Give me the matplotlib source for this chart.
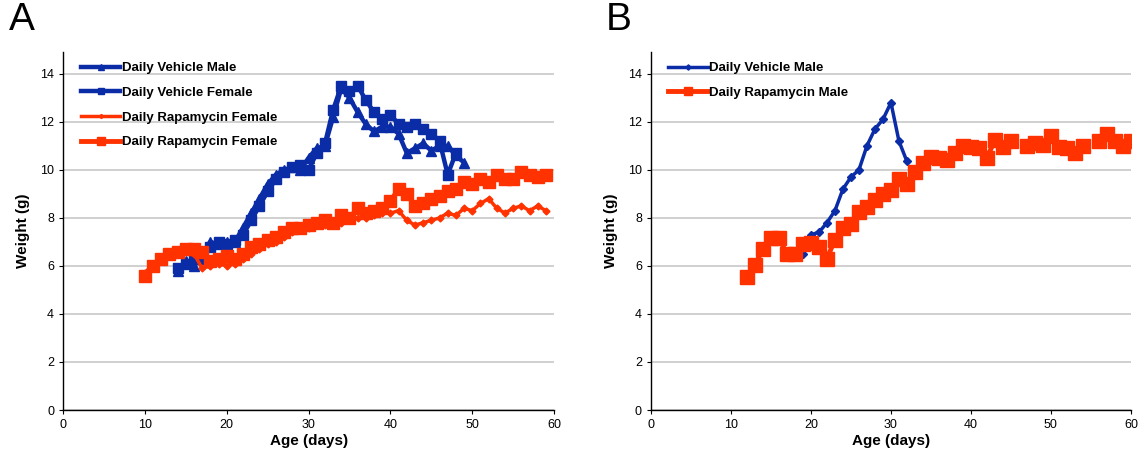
import numpy as np
import matplotlib
matplotlib.use("Agg")
import matplotlib.pyplot as plt

plt.rcParams["font.family"] = ["Liberation Sans", "DejaVu Sans"]

BLUE = "#0a2ca6"
RED = "#ff3200"

# ---- panel A ----
days_veh_m = np.arange(14, 50)
veh_male = [5.8, 6.2, 6.0, 6.5, 7.0, 6.9, 7.0, 7.0, 7.6, 8.2,
            8.8, 9.4, 9.8, 10.0, 10.1, 10.0, 10.5, 10.9, 11.0, 12.2,
            13.4, 13.0, 12.4, 11.9, 11.6, 11.8, 11.8, 11.5, 10.7, 10.9,
            11.1, 10.8, 11.0, 11.0, 10.6, 10.3]
days_veh_f = np.arange(14, 49)
veh_female = [5.9, 6.1, 6.3, 6.3, 6.8, 7.0, 6.9, 7.1, 7.3, 7.9,
              8.5, 9.1, 9.6, 9.9, 10.1, 10.2, 10.0, 10.7, 11.1, 12.5,
              13.5, 13.3, 13.5, 12.9, 12.4, 12.1, 12.3, 11.9, 11.8, 11.9,
              11.7, 11.5, 11.2, 9.8, 10.7]
days_rapa_f = np.arange(10, 60)
rapa_female_a = [5.7, 6.1, 6.3, 6.5, 6.6, 6.7, 6.5, 5.9, 6.0, 6.1,
                 6.0, 6.1, 6.3, 6.5, 6.7, 6.9, 7.0, 7.2, 7.4, 7.5,
                 7.6, 7.7, 7.7, 7.8, 7.8, 7.9, 8.0, 8.0, 8.1, 8.2,
                 8.2, 8.3, 7.9, 7.7, 7.8, 7.9, 8.0, 8.2, 8.1, 8.4,
                 8.3, 8.6, 8.8, 8.4, 8.2, 8.4, 8.5, 8.3, 8.5, 8.3]
rapa_female_b = [5.6, 6.0, 6.3, 6.5, 6.6, 6.7, 6.7, 6.6, 6.2, 6.3,
                 6.4, 6.3, 6.5, 6.8, 6.9, 7.1, 7.2, 7.4, 7.6, 7.6,
                 7.7, 7.8, 7.9, 7.8, 8.1, 8.0, 8.4, 8.2, 8.3, 8.4,
                 8.7, 9.2, 9.0, 8.5, 8.6, 8.8, 8.9, 9.1, 9.2, 9.5,
                 9.4, 9.6, 9.5, 9.8, 9.6, 9.6, 9.9, 9.8, 9.7, 9.8]

# ---- panel B ----
days_veh_b = np.arange(19, 33)
veh_male_b = [6.5, 7.3, 7.4, 7.8, 8.3, 9.2, 9.7, 10.0, 11.0, 11.7,
              12.1, 12.8, 11.2, 10.35]
days_rapa_b = np.arange(12, 61)
rapa_male_b = [5.55, 6.05, 6.7, 7.15, 7.15, 6.5, 6.5, 6.9, 6.95, 6.8,
               6.3, 7.1, 7.6, 7.75, 8.25, 8.45, 8.75, 9.0, 9.15, 9.6,
               9.4, 9.9, 10.3, 10.55, 10.5, 10.4, 10.7, 11.0, 10.95, 10.9,
               10.5, 11.25, 10.95, 11.2, np.nan, 11.0, 11.1, 11.05, 11.4, 10.95,
               10.9, 10.7, 11.0, np.nan, 11.2, 11.5, 11.2, 11.0, 11.2]

fig = plt.figure(figsize=(11.38, 4.57), dpi=100)
axA = fig.add_axes([0.0554, 0.1028, 0.4315, 0.783])
axB = fig.add_axes([0.572, 0.1028, 0.4218, 0.783])

axA.plot(days_veh_m, veh_male, color=BLUE, lw=3.2, marker="^", ms=7.5,
         label="Daily Vehicle Male")
axA.plot(days_veh_f, veh_female, color=BLUE, lw=3.2, marker="s", ms=6.5,
         label="Daily Vehicle Female")
axA.plot(days_rapa_f, rapa_female_a, color=RED, lw=2.5, marker="D", ms=3.5,
         label="Daily Rapamycin Female")
axA.plot(days_rapa_f, rapa_female_b, color=RED, lw=3.5, marker="s", ms=9,
         label="Daily Rapamycin Female")

axB.plot(days_veh_b, veh_male_b, color=BLUE, lw=2.5, marker="D", ms=4.5,
         label="Daily Vehicle Male")
axB.plot(days_rapa_b, rapa_male_b, color=RED, lw=3.5, marker="s", ms=10,
         label="Daily Rapamycin Male")

for ax in (axA, axB):
    ax.set_xlim(0, 60)
    ax.set_ylim(0, 14.9)
    ax.set_xticks(range(0, 61, 10))
    ax.set_yticks(range(0, 15, 2))
    ax.yaxis.grid(True, color="#c8c8c8", lw=1.2)
    ax.set_axisbelow(True)
    for s in ("top", "right"):
        ax.spines[s].set_visible(False)
    for s in ("left", "bottom"):
        ax.spines[s].set_color("black")
        ax.spines[s].set_linewidth(1.0)
    ax.tick_params(labelsize=9, length=3, direction="out", width=0.8)
    ax.set_xlabel("Age (days)", fontsize=11, fontweight="bold", labelpad=2)
    ax.set_ylabel("Weight (g)", fontsize=11, fontweight="bold", labelpad=7)
    ax.legend(loc="upper left", bbox_to_anchor=(0.02, 0.995), frameon=False,
              prop={"size": 9.5, "weight": "bold"}, handlelength=3,
              handletextpad=0.1, labelspacing=0.95, markerscale=0.6,
              borderaxespad=0.2)

fig.text(0.008, 0.935, "A", fontsize=28)
fig.text(0.532, 0.935, "B", fontsize=28)

fig.savefig("out.png", dpi=100)
